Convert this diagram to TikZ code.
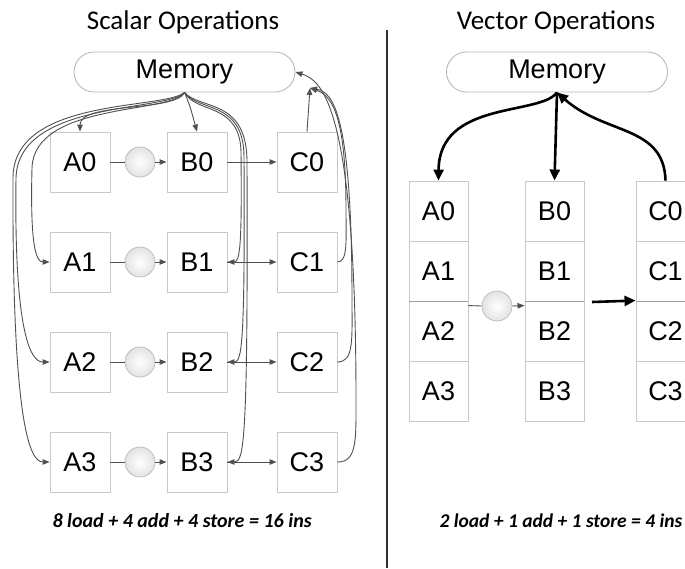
\documentclass[tikz,border=0pt]{standalone}
\usepackage{fontspec}
\setmainfont{Liberation Sans}
\newfontfamily\calib{Carlito}
\usetikzlibrary{arrows.meta,calc}
\definecolor{boxgray}{RGB}{200,200,200}
\definecolor{linegray}{RGB}{80,80,80}
\definecolor{sepgray}{RGB}{50,50,50}
\begin{document}
\begin{tikzpicture}[x=1pt,y=-1pt,
  cell/.style={draw=boxgray, fill=white, minimum width=60pt, minimum height=60pt, inner sep=0pt, line width=0.9pt, font=\fontsize{27}{30}\selectfont},
  vcell/.style={cell, minimum width=59pt},
  adder/.style={circle, draw=gray!55, line width=0.7pt, minimum size=30pt, inner sep=0pt, inner color=white, outer color=gray!22},
  mem/.style={draw=gray!55, line width=0.9pt, rounded corners=20pt, minimum width=221pt, minimum height=40pt, inner sep=0pt, font=\fontsize{27}{30}\selectfont},
  title/.style={font=\calib\fontsize{27}{30}\selectfont, anchor=base},
  note/.style={font=\calib\bfseries\itshape\fontsize{20}{24}\selectfont, anchor=base west},
  thin/.style={draw=linegray, line width=0.9pt},
  tarr/.style={thin, -{Triangle[length=7pt,width=5.5pt]}},
  thick/.style={draw=black, line width=2.6pt, -{Triangle[length=11pt,width=10pt]}},
]
\useasboundingbox (0,0) rectangle (685,568);
\clip (0,0) rectangle (685,568);

% ---------------- left: scalar ----------------
\node[title] (t1) at (183,29) {Scalar Operations};
\node[mem] (m1) at (184.5,72) {Memory};

\foreach \r/\y in {0/162,1/262,2/362,3/462}{
  \node[cell] (A\r) at (80,\y) {A\r};
  \node[cell] (B\r) at (197,\y) {B\r};
  \node[cell] (C\r) at (307,\y) {C\r};
  \node[adder] (c\r) at (140,\y) {};
  \draw[thin] (A\r.east) -- (c\r.west);
  \draw[tarr] (c\r.east) -- (B\r.west);
  \draw[tarr] (B\r.east) -- (C\r.west);
}
\coordinate (p1) at (310,88);

% loads from memory
\draw[tarr] (m1.south) .. controls (176,112) and (80,102) .. (A0.north);
\draw[tarr] (m1.south) .. controls (190,106) .. (B0.north);
\draw[tarr] (m1.south) .. controls (172,114) and (34,102) .. (32,168) .. controls (30,245) and (36,262) .. (A1.west);
\draw[tarr] (m1.south) .. controls (168,112) and (18,100) .. (16,178) .. controls (14,330) and (30,362) .. (A2.west);
\draw[tarr] (m1.south) .. controls (164,110) and (13,97) .. (13,178) .. controls (12,425) and (30,462) .. (A3.west);
\draw[tarr] (m1.south) .. controls (196,114) and (240,102) .. (241,152) .. controls (242,245) and (240,262) .. (B1.east);
\draw[tarr] (m1.south) .. controls (198,112) and (244,100) .. (244,157) .. controls (245,345) and (242,362) .. (B2.east);
\draw[tarr] (m1.south) .. controls (200,110) and (247,98) .. (247,162) .. controls (248,445) and (244,462) .. (B3.east);

% stores to memory
\draw[tarr] (C0.north) -- (p1);
\draw[tarr] (C1.east) .. controls (348,262) and (346,240) .. (346,210) .. controls (346,110) and (330,95) .. (p1);
\draw[tarr] (C2.east) .. controls (354,362) and (352,340) .. (352,300) .. controls (352,110) and (332,92) .. (p1);
\draw[tarr] (C3.east) .. controls (357,462) and (356,440) .. (356,400) .. controls (356,100) and (320,80) .. (m1.east);

\node[note] (n1) at (49,527) {8 load + 4 add + 4 store = 16 ins};

% separator
\coordinate (s1) at (387,30);
\coordinate (s2) at (387,568);
\draw[sepgray, line width=2.4pt] (s1) -- (s2);

% ---------------- right: vector ----------------
\node[title] (t2) at (556,29) {Vector Operations};
\node[mem] (m2) at (557,72) {Memory};

\foreach \r/\y in {0/211,1/271,2/331,3/391}{
  \node[vcell] (vA\r) at (438.5,\y) {A\r};
  \node[vcell] (vB\r) at (554.5,\y) {B\r};
  \node[vcell] (vC\r) at (665.5,\y) {C\r};
}
\draw[gray!75, line width=0.9pt] (vA1.south west) -- (vA1.south east);
\draw[gray!75, line width=0.9pt] (vB1.south west) -- (vB1.south east);
\draw[gray!75, line width=0.9pt] (vC1.south west) -- (vC1.south east);

\node[adder] (vc) at (497,306) {};
\draw[thin] ($(vA2.north east)+(0,5)$) -- (vc.west);
\draw[tarr] (vc.east) -- ($(vB2.north west)+(0,5)$);
\coordinate (va) at (592,302);
\draw[thick] (va) -- (vC2.north west);

\draw[thick] (m2.south) .. controls (540,116) and (439,100) .. (vA0.north);
\draw[thick] (m2.south) -- (vB0.north);
\draw[thick] (vC0.north) .. controls (664,125) and (605,135) .. (m2.south);

\node[note, font=\calib\bfseries\itshape\fontsize{19.5}{24}\selectfont] (n2) at (436,527) {2 load + 1 add + 1 store = 4 ins};
\end{tikzpicture}
\end{document}
